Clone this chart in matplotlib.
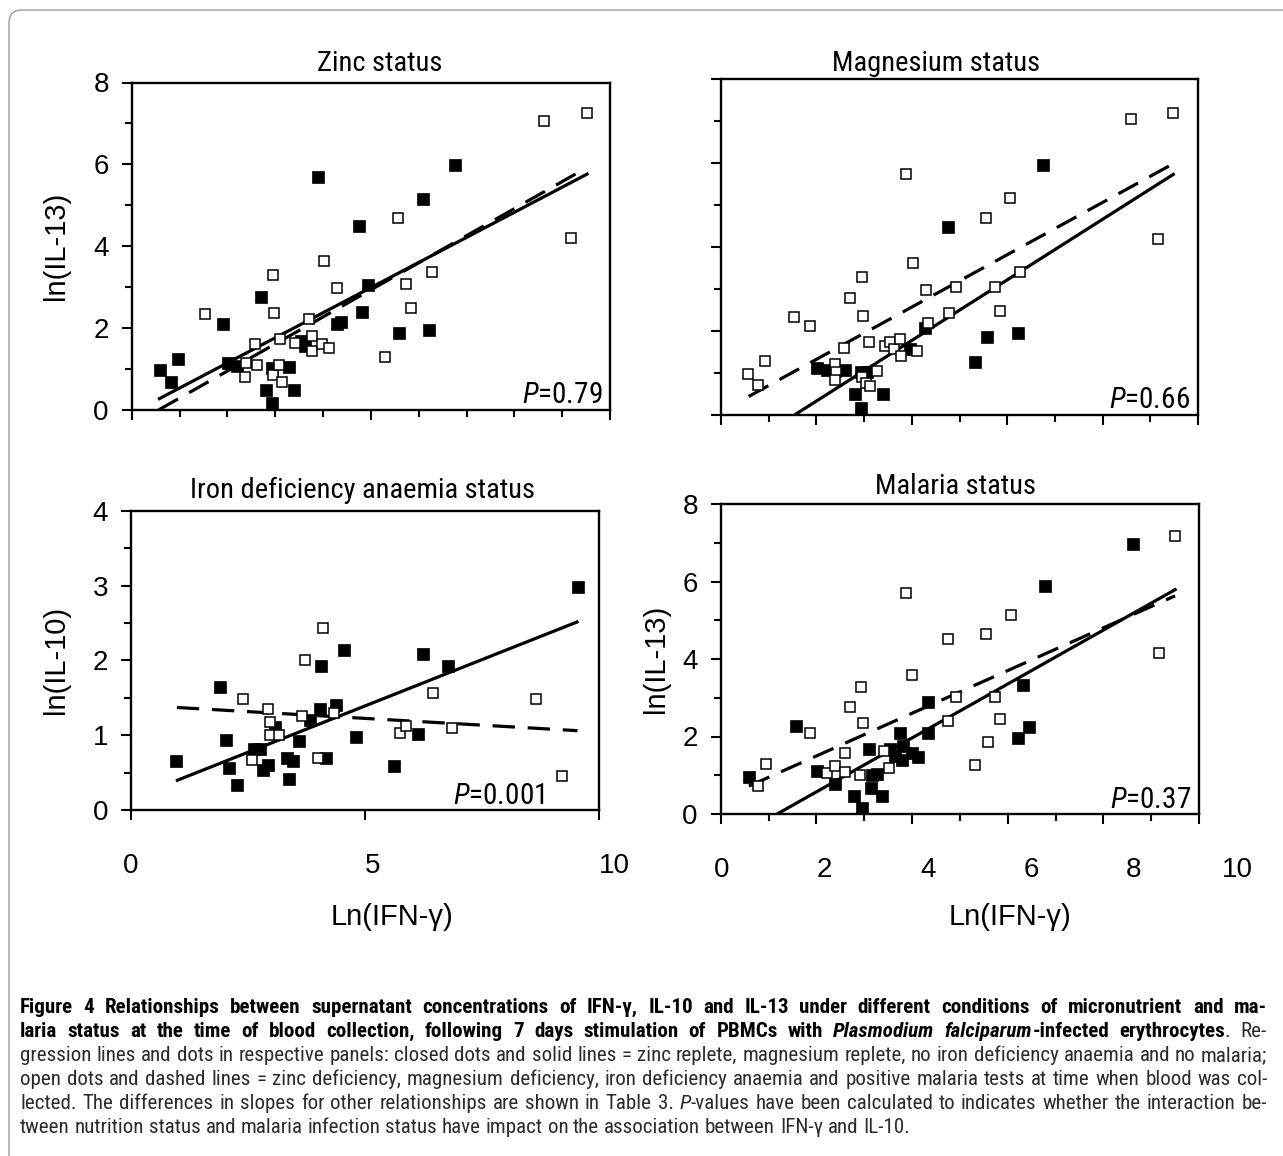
import matplotlib
matplotlib.use("Agg")
import matplotlib.pyplot as plt
from matplotlib import font_manager
from matplotlib.patches import FancyBboxPatch
from matplotlib.ticker import MultipleLocator

# fonts: condensed grotesque for titles / P values / caption, Arial-like for axes
names = {f.name for f in font_manager.fontManager.ttflist}


def pick(cands):
    for c in cands:
        if c in names:
            return c
    return "Liberation Sans"


NARROW = pick(["Liberation Sans Narrow", "Arial Narrow", "Roboto Condensed", "Archivo Narrow"])
REG = pick(["Liberation Sans", "Arimo"])
CAPFONT = NARROW
plt.rcParams['font.family'] = [REG, 'DejaVu Sans']
plt.rcParams['mathtext.fontset'] = 'custom'
plt.rcParams['mathtext.it'] = NARROW + ':italic'
plt.rcParams['mathtext.rm'] = NARROW

W, H = 1283, 1156

# ---------------- data ----------------
# Zinc status (IL-13 vs IFN-g)
ZINC_CLOSED_X = [0.59, 0.82, 0.96, 1.90, 2.01, 2.20, 2.70, 2.80, 2.93, 2.93, 3.29, 3.39,
                 3.55, 3.62, 3.89, 4.29, 4.37, 4.75, 4.82, 4.95, 5.59, 6.08, 6.22, 6.76]
ZINC_CLOSED_Y = [0.98, 0.69, 1.25, 2.10, 1.14, 1.08, 2.77, 0.49, 0.16, 1.02, 1.06, 0.49,
                 1.69, 1.56, 5.70, 2.10, 2.16, 4.50, 2.40, 3.05, 1.87, 5.16, 1.96, 5.99]
ZINC_OPEN_X = [1.54, 2.37, 2.38, 2.58, 2.61, 2.96, 2.98, 2.96, 3.07, 3.14, 3.10, 3.41, 3.71,
               3.77, 3.77, 3.97, 4.02, 4.13, 4.30, 5.30, 5.56, 5.74, 5.83, 6.27, 8.62, 9.18, 9.51]
ZINC_OPEN_Y = [2.34, 0.81, 1.14, 1.61, 1.10, 3.30, 2.36, 0.86, 1.10, 0.69, 1.73, 1.63, 2.22,
               1.81, 1.43, 1.61, 3.65, 1.52, 2.97, 1.29, 4.68, 3.07, 2.48, 3.38, 7.05, 4.21, 7.25]
ZINC_SOLID_X, ZINC_SOLID_Y = [0.55, 9.55], [0.26, 5.78]
ZINC_DASH_X, ZINC_DASH_Y = [0.56, 9.50], [0.0, 5.91]

# Magnesium status
MG_CLOSED_X = [2.01, 2.22, 2.61, 2.80, 2.94, 2.94, 3.07, 3.39, 3.97, 4.28, 4.76, 5.33, 5.58, 6.23, 6.75]
MG_CLOSED_Y = [1.12, 1.07, 1.07, 0.51, 0.16, 1.03, 1.03, 0.51, 1.58, 2.06, 4.46, 1.25, 1.85, 1.96, 5.94]
MG_OPEN_X = [0.56, 0.78, 0.93, 1.54, 1.87, 2.40, 2.41, 2.40, 2.57, 2.71, 2.96, 2.98, 2.96,
             3.03, 3.13, 3.10, 3.28, 3.43, 3.54, 3.62, 3.76, 3.77, 3.88, 4.03, 4.11, 4.30,
             4.34, 4.77, 4.93, 5.56, 5.74, 5.84, 6.05, 6.26, 8.60, 9.16, 9.48]
MG_OPEN_Y = [0.97, 0.71, 1.28, 2.32, 2.11, 1.21, 1.03, 0.83, 1.60, 2.79, 3.29, 2.35, 0.91,
             0.77, 0.69, 1.73, 1.05, 1.64, 1.73, 1.56, 1.80, 1.41, 5.73, 3.62, 1.52, 2.97,
             2.18, 2.43, 3.05, 4.69, 3.05, 2.48, 5.17, 3.39, 7.03, 4.18, 7.19]
MG_SOLID_X, MG_SOLID_Y = [1.54, 9.51], [0.0, 5.74]
MG_DASH_X, MG_DASH_Y = [0.58, 9.49], [0.44, 5.98]

# Iron deficiency anaemia status (IL-10 vs IFN-g)
FE_CLOSED_X = [0.96, 1.90, 2.02, 2.10, 2.26, 2.63, 2.76, 2.81, 2.93, 3.08, 3.33, 3.38, 3.47,
               3.58, 3.82, 4.04, 4.06, 4.16, 4.38, 4.56, 4.81, 5.61, 6.13, 6.23, 6.78, 9.56]
FE_CLOSED_Y = [0.66, 1.65, 0.94, 0.56, 0.33, 0.82, 0.81, 0.53, 0.60, 1.11, 0.70, 0.41, 0.66,
               0.92, 1.20, 1.35, 1.92, 0.70, 1.40, 2.14, 0.97, 0.59, 1.01, 2.09, 1.92, 2.98]
FE_OPEN_X = [2.40, 2.58, 2.92, 2.98, 2.96, 3.17, 3.65, 3.72, 4.00, 4.10, 4.34, 5.75, 5.87,
             6.45, 6.85, 8.65, 9.20]
FE_OPEN_Y = [1.49, 0.67, 1.35, 1.18, 1.00, 1.00, 1.26, 2.00, 0.69, 2.43, 1.29, 1.03, 1.12,
             1.57, 1.09, 1.49, 0.45]
FE_SOLID_X, FE_SOLID_Y = [0.96, 9.56], [0.39, 2.52]
FE_DASH_X, FE_DASH_Y = [0.98, 9.54], [1.37, 1.06]

# Malaria status
MAL_CLOSED_X = [0.59, 1.57, 2.01, 2.40, 2.79, 2.95, 3.11, 3.15, 3.16, 3.27, 3.38, 3.54, 3.64,
                3.74, 3.80, 3.82, 4.01, 4.13, 4.34, 4.33, 6.21, 6.31, 6.45, 6.78, 8.63]
MAL_CLOSED_Y = [0.95, 2.27, 1.11, 0.77, 0.47, 0.15, 1.69, 0.66, 1.01, 1.02, 0.47, 1.69, 1.50,
                2.10, 1.39, 1.75, 1.58, 1.48, 2.90, 2.08, 1.95, 3.33, 2.25, 5.89, 6.97]
MAL_OPEN_X = [0.77, 0.95, 1.87, 2.22, 2.40, 2.60, 2.60, 2.70, 2.91, 2.93, 2.98, 3.42, 3.51,
              3.87, 4.01, 4.75, 4.76, 4.92, 5.32, 5.55, 5.58, 5.73, 5.84, 6.07, 9.17, 9.50]
MAL_OPEN_Y = [0.71, 1.28, 2.10, 1.07, 1.24, 1.09, 1.58, 2.77, 1.01, 3.27, 2.34, 1.63, 1.20,
              5.71, 3.60, 4.51, 2.41, 3.03, 1.26, 4.65, 1.87, 3.03, 2.44, 5.13, 4.16, 7.17]
MAL_SOLID_X, MAL_SOLID_Y = [1.18, 9.53], [0.0, 5.81]
MAL_DASH_X, MAL_DASH_Y = [0.59, 9.50], [0.72, 5.63]

TITLES = ["Zinc status", "Magnesium status", "Iron deficiency anaemia status", "Malaria status"]
P_VALUES = ["0.79", "0.66", "0.001", "0.37"]
XLABEL = "Ln(IFN-\u03b3)"
YLABEL_13 = "ln(IL-13)"
YLABEL_10 = "ln(IL-10)"

CAPTION = [
    [("Figure 4 Relationships between supernatant concentrations of IFN-\u03b3, IL-10 and IL-13 "
      "under different conditions of micronutrient and ma-", 'b')],
    [("laria status at the time of blood collection, following 7 days stimulation of PBMCs with ", 'b'),
     ("Plasmodium falciparum", 'bi'), ("-infected erythrocytes", 'b'), (". Re-", 'n')],
    [("gression lines and dots in respective panels: closed dots and solid lines = zinc replete, "
      "magnesium replete, no iron deficiency anaemia and no malaria;", 'n')],
    [("open dots and dashed lines = zinc deficiency, magnesium deficiency, iron deficiency anaemia "
      "and positive malaria tests at time when blood was col-", 'n')],
    [("lected. The differences in slopes for other relationships are shown in Table 3. ", 'n'),
     ("P", 'i'), ("-values have been calculated to indicates whether the interaction be-", 'n')],
    [("tween nutrition status and malaria infection status have impact on the association "
      "between IFN-\u03b3 and IL-10.", 'n')],
]


def px_axes(fig, x0, y0, x1, y1):
    # axes box given in image pixels (top-left origin)
    return fig.add_axes([x0 / W, 1 - y1 / H, (x1 - x0) / W, (y1 - y0) / H])


def draw_panel(ax, cx, cy, ox, oy, sx, sy, dx, dy):
    ax.plot(sx, sy, color='k', lw=2.3, solid_capstyle='butt', zorder=2)
    ax.plot(dx, dy, color='k', lw=2.3, dashes=(7, 4), dash_capstyle='butt', zorder=2)
    ax.plot(cx, cy, 's', ms=9.2, mfc='k', mec='k', mew=0.5, ls='none', zorder=3, clip_on=False)
    ax.plot(ox, oy, 's', ms=7.2, mfc='white', mec='k', mew=1.1, ls='none', zorder=4, clip_on=False)
    ax.set_xlim(0, 10)
    for s in ax.spines.values():
        s.set_linewidth(1.7)
    ax.tick_params(which='both', direction='out', width=1.5, top=False, right=False)
    ax.tick_params(which='major', length=7.5)
    ax.tick_params(which='minor', length=5)
    ax.tick_params(axis='y', labelsize=20, pad=9)


def p_label(ax, value, xfrac):
    ax.text(xfrac, 0.02, "$\\mathit{P}$=" + value, transform=ax.transAxes,
            ha='right', va='baseline', fontsize=21, family=NARROW)


def x_labels(ax, values, stretch, base=0.0):
    # the original labels sit slightly spread out relative to their ticks
    ax.tick_params(axis='x', labelbottom=False)
    for v in values:
        ax.annotate(str(v), xy=(v, 0), xycoords=('data', 'axes fraction'),
                    xytext=(base + stretch * v, -43), textcoords='offset pixels',
                    ha='center', va='top', fontsize=20)


fig = plt.figure(figsize=(W / 100, H / 100), dpi=100)
TSIZE = 20.5

# ---- zinc ----
ax1 = px_axes(fig, 131.7, 82.5, 610, 410)
draw_panel(ax1, ZINC_CLOSED_X, ZINC_CLOSED_Y, ZINC_OPEN_X, ZINC_OPEN_Y,
           ZINC_SOLID_X, ZINC_SOLID_Y, ZINC_DASH_X, ZINC_DASH_Y)
ax1.set_ylim(0, 8)
ax1.yaxis.set_major_locator(MultipleLocator(2))
ax1.yaxis.set_minor_locator(MultipleLocator(1))
ax1.xaxis.set_major_locator(MultipleLocator(5))
ax1.xaxis.set_minor_locator(MultipleLocator(1))
ax1.tick_params(axis='x', labelbottom=False)
ax1.set_title(TITLES[0], family=NARROW, fontsize=TSIZE, pad=8, x=0.519)
ax1.set_ylabel(YLABEL_13, fontsize=21, va='center')
ax1.yaxis.set_label_coords((56 - 131.7) / 478.3, 0.5)
p_label(ax1, P_VALUES[0], 0.985)

# ---- magnesium ----
ax2 = px_axes(fig, 721, 78.5, 1198, 415)
draw_panel(ax2, MG_CLOSED_X, MG_CLOSED_Y, MG_OPEN_X, MG_OPEN_Y,
           MG_SOLID_X, MG_SOLID_Y, MG_DASH_X, MG_DASH_Y)
ax2.set_ylim(0, 8)
ax2.yaxis.set_major_locator(MultipleLocator(2))
ax2.yaxis.set_minor_locator(MultipleLocator(1))
ax2.xaxis.set_major_locator(MultipleLocator(2))
ax2.xaxis.set_minor_locator(MultipleLocator(1))
ax2.tick_params(axis='x', labelbottom=False)
ax2.tick_params(axis='y', labelleft=False)
ax2.set_title(TITLES[1], family=NARROW, fontsize=TSIZE, pad=5.5, x=0.451)
p_label(ax2, P_VALUES[1], 0.983)

# ---- iron deficiency anaemia ----
ax3 = px_axes(fig, 131, 510.7, 599, 810)
draw_panel(ax3, FE_CLOSED_X, FE_CLOSED_Y, FE_OPEN_X, FE_OPEN_Y,
           FE_SOLID_X, FE_SOLID_Y, FE_DASH_X, FE_DASH_Y)
ax3.set_ylim(0, 4)
ax3.yaxis.set_major_locator(MultipleLocator(1))
ax3.yaxis.set_minor_locator(MultipleLocator(0.5))
ax3.xaxis.set_major_locator(MultipleLocator(5))
ax3.set_title(TITLES[2], family=NARROW, fontsize=TSIZE, pad=9.5, x=0.494)
ax3.set_ylabel(YLABEL_10, fontsize=21, va='center')
ax3.yaxis.set_label_coords((56 - 131) / 468, 0.5)
ax3.set_xlabel(XLABEL, fontsize=21, va='top')
ax3.xaxis.set_label_coords(0.558, -0.31)
x_labels(ax3, [0, 5, 10], 1.5)
p_label(ax3, P_VALUES[2], (545 - 131) / 468)

# ---- malaria ----
ax4 = px_axes(fig, 720.7, 504, 1199, 814)
draw_panel(ax4, MAL_CLOSED_X, MAL_CLOSED_Y, MAL_OPEN_X, MAL_OPEN_Y,
           MAL_SOLID_X, MAL_SOLID_Y, MAL_DASH_X, MAL_DASH_Y)
ax4.set_ylim(0, 8)
ax4.yaxis.set_major_locator(MultipleLocator(2))
ax4.yaxis.set_minor_locator(MultipleLocator(1))
ax4.xaxis.set_major_locator(MultipleLocator(2))
ax4.xaxis.set_minor_locator(MultipleLocator(1))
ax4.set_title(TITLES[3], family=NARROW, fontsize=TSIZE, pad=7, x=0.49)
ax4.set_ylabel(YLABEL_13, fontsize=21, va='center')
ax4.yaxis.set_label_coords((656 - 720.7) / 478.3, 0.5)
ax4.set_xlabel(XLABEL, fontsize=21, va='top')
ax4.xaxis.set_label_coords(0.605, -0.287)
x_labels(ax4, [0, 2, 4, 6, 8, 10], 3.7, 1.0)
p_label(ax4, P_VALUES[3], 0.983)

# ---- rounded frame around the whole figure (cut off right and bottom) ----
frame = FancyBboxPatch((9, -40), W + 60, H - 10 + 40,
                       boxstyle="round,pad=0,rounding_size=13",
                       transform=None, fill=False, ec='#9a9a9a', lw=1.0)
fig.add_artist(frame)

# ---- justified caption ----
CAP_SIZE = 14.0
STYLES = {
    'b': dict(weight='bold', style='normal', color='black'),
    'bi': dict(weight='bold', style='italic', color='black'),
    'n': dict(weight='normal', style='normal', color='#2b2b2b'),
    'i': dict(weight='normal', style='italic', color='#2b2b2b'),
}


def tokenize(segs):
    words = []
    glue = False
    for txt, st in segs:
        for i, piece in enumerate(txt.split(' ')):
            if i > 0:
                glue = False
            if piece == '':
                continue
            if glue and words:
                words[-1].append((piece, st))
            else:
                words.append([(piece, st)])
            glue = True
    return words


renderer = fig.canvas.get_renderer()


def fprop(st, size):
    s = STYLES[st]
    return font_manager.FontProperties(family=CAPFONT, weight=s['weight'],
                                       style=s['style'], size=size)


def text_w(p, st, size):
    return renderer.get_text_width_height_descent(p, fprop(st, size), ismath=False)[0]


def word_width(word, size):
    return sum(text_w(p, st, size) for p, st in word)


CAP_LEFT, CAP_RIGHT = 20, 1267
lines = [tokenize(seg) for seg in CAPTION]

# pick the caption size so the fullest line is set with ordinary word spacing
space_w = text_w(' ', 'n', CAP_SIZE)
scale = min((CAP_RIGHT - CAP_LEFT) /
            (sum(word_width(w, CAP_SIZE) for w in words) + space_w * (len(words) - 1))
            for words in lines[:-1])
size = CAP_SIZE * scale
space_w = text_w(' ', 'n', size)

baseline = 1013
for li, words in enumerate(lines):
    widths = [word_width(w, size) for w in words]
    if li < len(lines) - 1:
        gap = (CAP_RIGHT - CAP_LEFT - sum(widths)) / (len(words) - 1)
    else:
        gap = space_w
    x = CAP_LEFT
    for w, wd in zip(words, widths):
        xx = x
        for p, st in w:
            fig.text(xx / W, 1 - baseline / H, p, fontproperties=fprop(st, size),
                     color=STYLES[st]['color'], ha='left', va='baseline')
            xx += text_w(p, st, size)
        x += wd + gap
    baseline += 24

fig.savefig("out.png", dpi=100)
